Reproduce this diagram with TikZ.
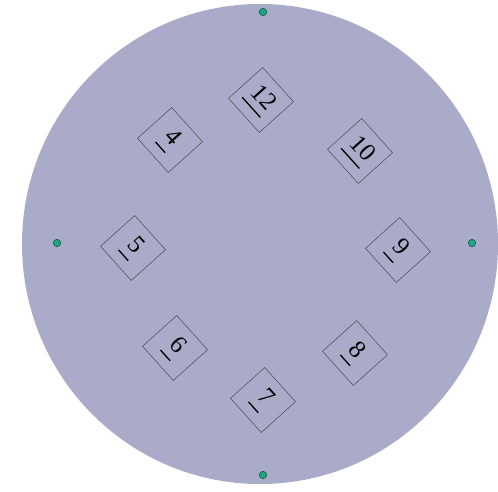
\documentclass[tikz,border=0pt]{standalone}
\usepackage{fontspec}
\setmainfont{Liberation Serif}
\definecolor{disc}{RGB}{170,170,201}
\definecolor{dotfill}{RGB}{30,165,125}
\definecolor{dotline}{RGB}{25,95,85}
\newcommand\ulx[1]{\setbox0\hbox{#1}\rlap{\kern-0.08em\rule[-0.36em]{\dimexpr\wd0+0.08em\relax}{1.3pt}}\box0}
\tikzset{
  lbl/.style={draw=black!70, line width=0.5pt, minimum size=46pt, inner sep=0pt,
    rotate=-48, font=\fontsize{25}{27}\selectfont},
  pin/.style={circle, fill=dotfill, draw=dotline, line width=0.6pt, minimum size=7.5pt, inner sep=0pt}
}
\begin{document}
\begin{tikzpicture}[x=1pt,y=-1pt]
\useasboundingbox (0,0) rectangle (498,491);
\fill[disc] (260,244) ellipse [x radius=238, y radius=240];
\node[lbl] (n12) at (261,100) {\ulx{12}};
\node[lbl] (n4)  at (170,140) {\ulx{4}};
\node[lbl] (n10) at (360,151) {\ulx{10}};
\node[lbl] (n5)  at (133,248) {\ulx{5}};
\node[lbl] (n9)  at (398,250) {\ulx{9}};
\node[lbl] (n6)  at (175,348) {\ulx{6}};
\node[lbl] (n8)  at (355,353) {\ulx{8}};
\node[lbl] (n7)  at (263,400) {\ulx{7}};
\node[pin] (pt) at (263,12) {};
\node[pin] (pl) at (57,243) {};
\node[pin] (pr) at (472,243) {};
\node[pin] (pb) at (263,475) {};
\end{tikzpicture}
\end{document}
